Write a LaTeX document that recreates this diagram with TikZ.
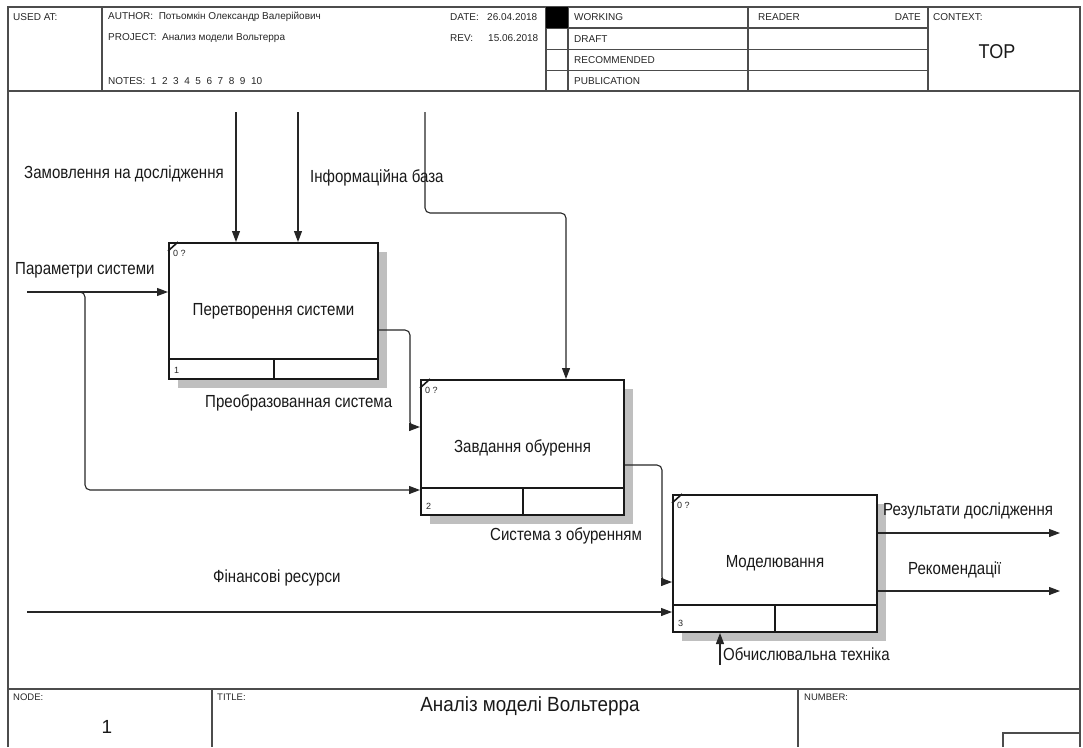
\documentclass[tikz,border=0pt]{standalone}
\usepackage{fontspec}
\setmainfont{Liberation Sans}
\usetikzlibrary{arrows.meta,shadows}

% narrow, tall lettering used for the labels
\newcommand{\narrow}[1]{\scalebox{0.86}[1]{#1}}

\tikzset{
  frameline/.style={draw=black!70, line width=1.3pt},
  hdr/.style={font=\fontsize{10}{12}\selectfont, text=black!85, inner sep=0pt},
  ftr/.style={font=\fontsize{9.5}{11}\selectfont, text=black!85, inner sep=0pt},
  lbl/.style={font=\fontsize{17.5}{19}\selectfont, text=black!90, inner sep=0pt},
  actbox/.style={draw=black!90, line width=2pt, fill=white, inner sep=0pt,
    font=\fontsize{17.5}{19}\selectfont, text=black!90,
    drop shadow={shadow xshift=9pt, shadow yshift=-9pt, fill=black!25, opacity=1}},
  small/.style={font=\fontsize{9}{10}\selectfont, text=black!85, inner sep=0pt, anchor=west},
  arr/.style={draw=black!85, line width=1.1pt, -{Triangle[length=11pt,width=8pt]}},
  wire/.style={draw=black!85, line width=1.1pt},
  rc/.style={rounded corners=5pt}
}

% decorations of an activity box: corner tick, "0 ?", bottom row and number
\newcommand{\boxparts}[3]{%
  \draw[line width=1.6pt, black!90] ([yshift=-9pt]#1.north west) -- ([xshift=10pt]#1.north west);
  \node[small] at ([xshift=5pt,yshift=-11pt]#1.north west) {0 ?};
  \draw[line width=2pt, black!90] ([yshift=#2]#1.south west) -- ([yshift=#2]#1.south east);
  \draw[line width=2pt, black!90] ([yshift=#2]#1.south) -- (#1.south);
  \node[small] at ([xshift=6pt,yshift=10pt]#1.south west) {#3};
}

\begin{document}
\begin{tikzpicture}[x=1pt, y=-1pt]
\useasboundingbox (0,0) rectangle (1083,747);

% ---------- outer frame, header and footer ----------
\draw[frameline] (8,747) -- (8,7) -- (1080,7) -- (1080,747);
\draw[frameline] (8,91) -- (1080,91);
\draw[frameline] (102,7) -- (102,91);
\draw[frameline] (546,7) -- (546,91);
\draw[frameline] (568,7) -- (568,91);
\draw[frameline] (748,7) -- (748,91);
\draw[frameline] (928,7) -- (928,91);
\draw[frameline] (546,28) -- (928,28);
\draw[frameline] (546,49.5) -- (928,49.5);
\draw[frameline] (546,70.5) -- (928,70.5);
\fill[black] (546,7) rectangle (568,28);

\node[hdr, anchor=west] (usedat) at (13,17) {USED AT:};
\node[hdr, anchor=west] (author) at (108,17) {AUTHOR:\ \ Потьомкін Олександр Валерійович};
\node[hdr, anchor=west] (project) at (108,38) {PROJECT:\ \ Анализ модели Вольтерра};
\node[hdr, anchor=west] (notes) at (108,81) {NOTES:\ \ 1\ \ 2\ \ 3\ \ 4\ \ 5\ \ 6\ \ 7\ \ 8\ \ 9\ \ 10};
\node[hdr, anchor=west] (datel) at (450,17) {DATE:};
\node[hdr, anchor=west] (datev) at (487,17) {26.04.2018};
\node[hdr, anchor=west] (revl) at (450,38) {REV:};
\node[hdr, anchor=west] (revv) at (488,38) {15.06.2018};
\node[hdr, anchor=west] (working) at (574,17) {WORKING};
\node[hdr, anchor=west] (draft) at (574,39) {DRAFT};
\node[hdr, anchor=west] (recomm) at (574,60) {RECOMMENDED};
\node[hdr, anchor=west] (public) at (574,81) {PUBLICATION};
\node[hdr, anchor=west] (reader) at (758,17) {READER};
\node[hdr, anchor=east] (rdate) at (921,17) {DATE};
\node[hdr, anchor=west] (context) at (933,17) {CONTEXT:};
\node[font=\fontsize{20}{22}\selectfont, text=black!90, inner sep=0pt] (top) at (997,52) {\scalebox{0.9}[1]{TOP}};

\draw[frameline] (8,689) -- (1080,689);
\draw[frameline] (212,689) -- (212,747);
\draw[frameline] (798,689) -- (798,747);
\draw[frameline] (1003,747) -- (1003,733) -- (1080,733);
\node[ftr, anchor=west] (nodel) at (13,697) {NODE:};
\node[ftr, anchor=west] (titlel) at (217,697) {TITLE:};
\node[ftr, anchor=west] (numberl) at (804,697) {NUMBER:};
\node[font=\fontsize{19}{21}\selectfont, text=black!90, inner sep=0pt] (nodenum) at (107,727) {1};
\node[font=\fontsize{20.5}{22}\selectfont, text=black!90, inner sep=0pt] (title) at (530,706) {\scalebox{0.92}[1]{Аналіз моделі Вольтерра}};

% ---------- activity boxes ----------
\node[actbox, minimum width=209pt, minimum height=136pt, anchor=north west] (b1) at (168,242) {\narrow{Перетворення системи}};
\node[actbox, minimum width=203pt, minimum height=135pt, anchor=north west] (b2) at (420,379) {\narrow{Завдання обурення}};
\node[actbox, minimum width=204pt, minimum height=137pt, anchor=north west] (b3) at (672,494) {\narrow{Моделювання}};
\boxparts{b1}{21pt}{1}
\boxparts{b2}{28pt}{2}
\boxparts{b3}{28pt}{3}

% ---------- free ends and routing points ----------
\coordinate (c1s) at (236,112);
\coordinate (c2s) at (298,112);
\coordinate (c3s) at (425,112);
\coordinate (c3k) at (566,213);
\coordinate (i1s) at (27,292);
\coordinate (brk) at (85,490);
\coordinate (i2s) at (27,612);
\coordinate (r1) at (410,330);
\coordinate (r1b) at (410,427);
\coordinate (r2) at (662,465);
\coordinate (r2b) at (662,582);
\coordinate (o1e) at (1060,533);
\coordinate (o2e) at (1060,591);
\coordinate (m1s) at (720,665);

% ---------- connectors ----------
\draw[arr] (c1s) -- (c1s |- b1.north);
\draw[arr] (c2s) -- (c2s |- b1.north);
\draw[arr, rc] (c3s) |- (c3k) -- (c3k |- b2.north);
\draw[arr] (i1s) -- (i1s -| b1.west);
\draw[arr, rc] (i1s) -| (brk) -- (brk -| b2.west);
\draw[arr, rc] (r1 -| b1.east) -- (r1) -- (r1b) -- (r1b -| b2.west);
\draw[arr, rc] (r2 -| b2.east) -- (r2) -- (r2b) -- (r2b -| b3.west);
\draw[arr] (i2s) -- (i2s -| b3.west);
\draw[arr] (o1e -| b3.east) -- (o1e);
\draw[arr] (o2e -| b3.east) -- (o2e);
\draw[arr] (m1s) -- (m1s |- b3.south);

% ---------- arrow labels ----------
\node[lbl, anchor=west] (lc1) at (24,174) {\narrow{Замовлення на дослідження}};
\node[lbl, anchor=west] (lc2) at (310,178) {\narrow{Інформаційна база}};
\node[lbl, anchor=west] (li1) at (15,270) {\narrow{Параметри системи}};
\node[lbl, anchor=west] (lo1) at (205,403) {\narrow{Преобразованная система}};
\node[lbl, anchor=west] (lo2) at (490,536) {\narrow{Система з обуренням}};
\node[lbl, anchor=west] (li2) at (213,578) {\narrow{Фінансові ресурси}};
\node[lbl, anchor=west] (lr1) at (883,511) {\narrow{Результати дослідження}};
\node[lbl, anchor=west] (lr2) at (908,570) {\narrow{Рекомендації}};
\node[lbl, anchor=west] (lm1) at (723,654) {\narrow{Обчислювальна техніка}};
\end{tikzpicture}
\end{document}
